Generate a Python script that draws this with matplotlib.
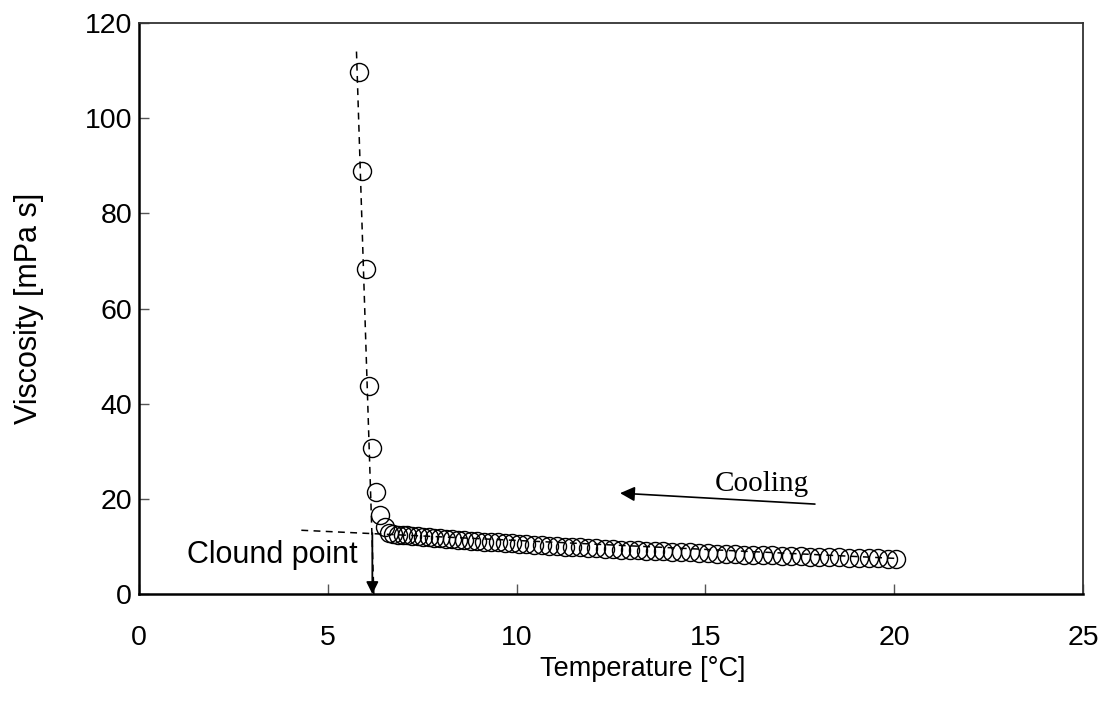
import matplotlib
matplotlib.use('Agg')
import matplotlib.pyplot as plt

# steep rise below the cloud point
temp_steep = [5.83, 5.90, 6.00, 6.08, 6.17, 6.28, 6.38, 6.51]
visc_steep = [109.7, 88.9, 68.2, 43.7, 30.7, 21.4, 16.6, 14.1]

# slow drift above the cloud point
temp_flat = [6.62, 6.74, 6.86, 6.98, 7.11, 7.24, 7.38, 7.52, 7.67, 7.82,
             7.97, 8.13, 8.29, 8.45, 8.62, 8.79, 8.96, 9.14, 9.32, 9.50,
             9.69, 9.88, 10.07, 10.26, 10.46, 10.66, 10.86, 11.06, 11.27, 11.48,
             11.69, 11.90, 12.11, 12.33, 12.55, 12.77, 12.99, 13.21, 13.43, 13.66,
             13.89, 14.12, 14.35, 14.58, 14.82, 15.06, 15.30, 15.54, 15.78, 16.02,
             16.27, 16.52, 16.77, 17.02, 17.27, 17.52, 17.77, 18.02, 18.28, 18.54,
             18.80, 19.06, 19.32, 19.58, 19.84, 20.05]
visc_flat = [12.8, 12.6, 12.5, 12.4, 12.3, 12.2, 12.1, 12.0, 11.9, 11.8,
             11.7, 11.6, 11.5, 11.4, 11.3, 11.2, 11.1, 11.0, 10.9, 10.85,
             10.75, 10.65, 10.55, 10.45, 10.35, 10.25, 10.15, 10.05, 9.95, 9.9,
             9.8, 9.7, 9.6, 9.55, 9.45, 9.35, 9.3, 9.2, 9.1, 9.05,
             8.95, 8.9, 8.8, 8.75, 8.65, 8.6, 8.5, 8.45, 8.35, 8.3,
             8.2, 8.15, 8.1, 8.0, 7.95, 7.9, 7.85, 7.8, 7.75, 7.7,
             7.65, 7.6, 7.55, 7.5, 7.45, 7.4]

# trend lines (end points)
trend_steep_x = [5.76, 6.22]
trend_steep_y = [114.0, 0.0]
trend_flat_x = [4.3, 20.0]
trend_flat_y = [13.4, 7.5]

cloud_point = (6.18, 12.8)

plt.rcParams['font.family'] = ['Liberation Sans', 'DejaVu Sans']

fig = plt.figure(figsize=(11.09, 7.12), dpi=100)
ax = fig.add_axes([0.1253, 0.1657, 0.8513, 0.802])

dash = (0, (4.5, 3.5))
ax.plot(trend_steep_x, trend_steep_y, color='black', lw=1.1, linestyle=dash, zorder=2)
ax.plot(trend_flat_x, trend_flat_y, color='black', lw=1.1, linestyle=dash, zorder=2)

ax.plot(temp_steep + temp_flat, visc_steep + visc_flat, linestyle='none', marker='o',
        markersize=13, markerfacecolor='none', markeredgecolor='black',
        markeredgewidth=1.0, zorder=3)

ax.annotate('', xy=(cloud_point[0], 0), xytext=cloud_point,
            arrowprops=dict(arrowstyle='-|>', color='black', lw=1.3,
                            mutation_scale=18, shrinkA=0, shrinkB=0), zorder=4)
ax.text(5.8, 6.5, 'Clound point', fontsize=22, ha='right', va='baseline')

ax.annotate('', xy=(12.74, 21.2), xytext=(17.9, 18.9),
            arrowprops=dict(arrowstyle='-|>', color='black', lw=1.2,
                            mutation_scale=22, shrinkA=0, shrinkB=0))
ax.text(15.25, 21.6, 'Cooling', fontsize=21, family=['Liberation Serif', 'DejaVu Serif'],
        ha='left', va='baseline')

ax.set_xlim(0, 25)
ax.set_ylim(0, 120)
ax.set_xticks([0, 5, 10, 15, 20, 25])
ax.set_yticks([0, 20, 40, 60, 80, 100, 120])
ax.tick_params(axis='both', direction='in', length=7, width=1, labelsize=20.5, color='#555555')
ax.tick_params(axis='x', pad=22)
ax.tick_params(axis='y', pad=5)

for side in ['left', 'bottom']:
    ax.spines[side].set_linewidth(1.8)
    ax.spines[side].set_color('black')
for side in ['top', 'right']:
    ax.spines[side].set_linewidth(1.3)
    ax.spines[side].set_color('#333333')

ax.set_xlabel('Temperature [°C]', fontsize=19.5, labelpad=4)
ax.xaxis.label.set_x(0.534)
ax.set_ylabel('Viscosity [mPa s]', fontsize=22, labelpad=29)

fig.savefig('out.png', dpi=100)
